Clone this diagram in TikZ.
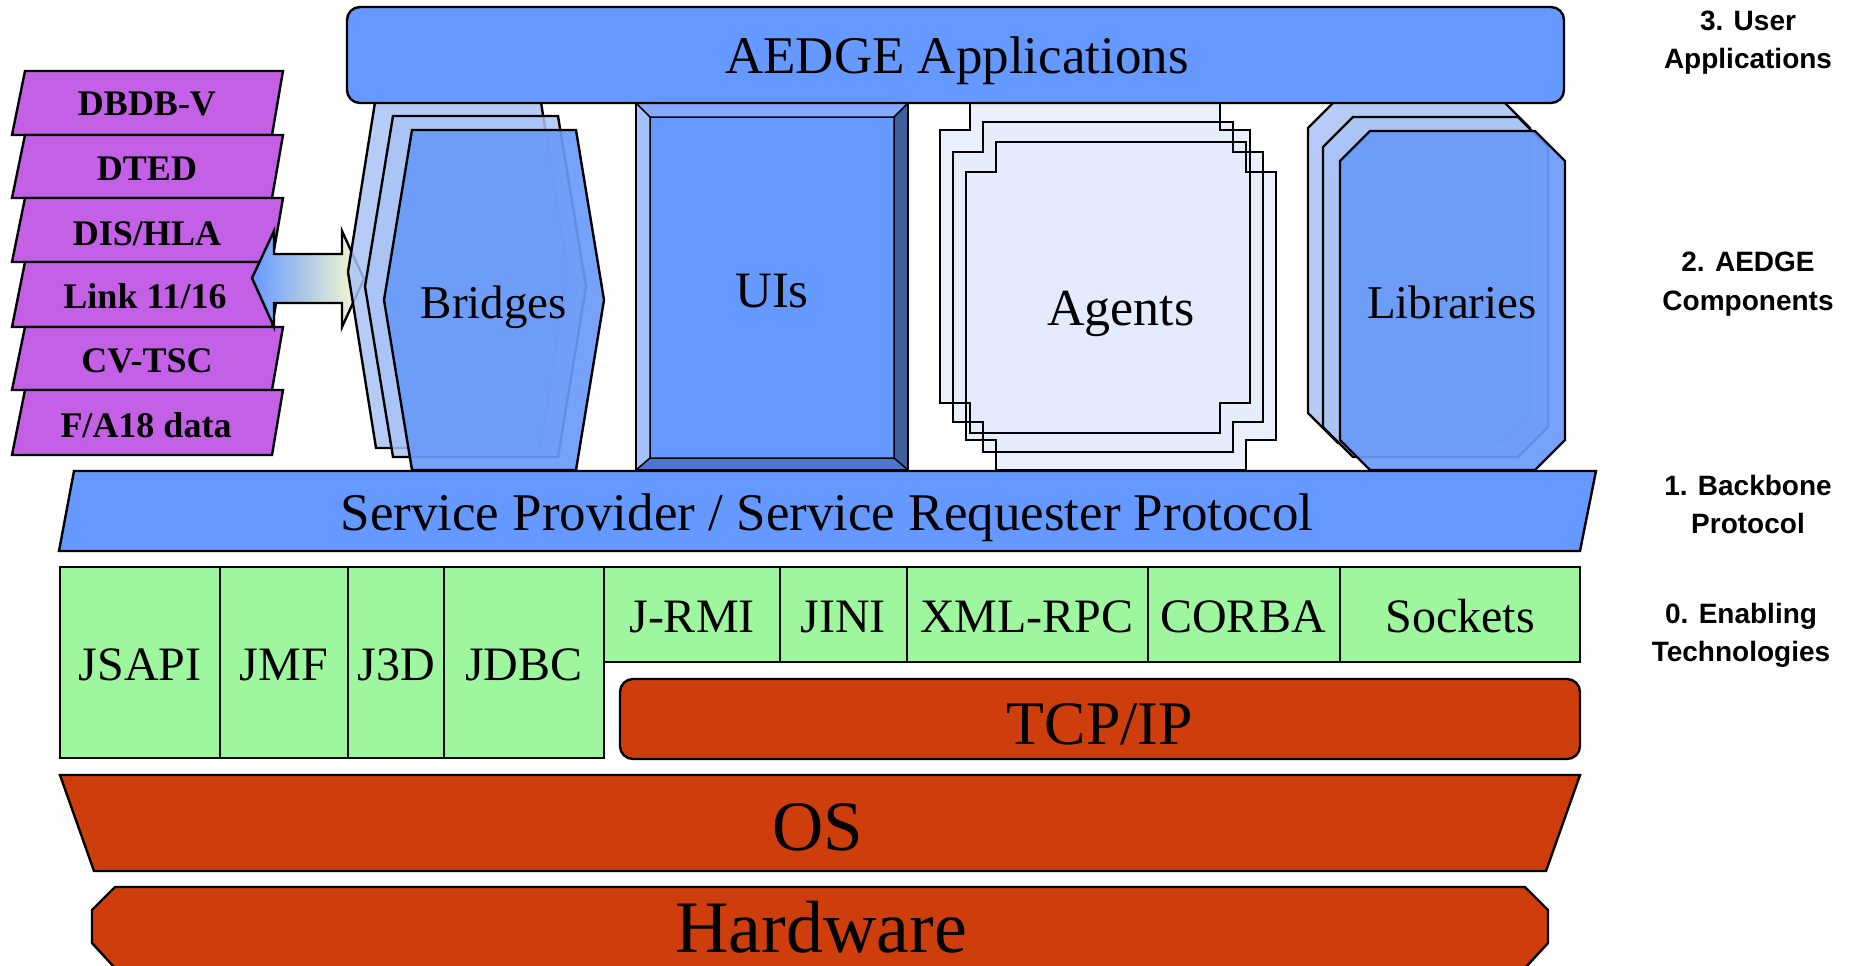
\documentclass[tikz,border=0pt]{standalone}
\usepackage{fontspec}
\setmainfont{Liberation Serif}
\newfontfamily\labfont{Liberation Sans}
\definecolor{barblue}{HTML}{6699FF}
\definecolor{lightblue}{HTML}{A9C3F6}
\definecolor{frontblue}{HTML}{6A9AF8}
\definecolor{agentfill}{HTML}{E3EBFC}
\definecolor{greenfill}{HTML}{9EF79E}
\definecolor{orangefill}{HTML}{CE3E0C}
\definecolor{purplefill}{HTML}{C460E6}
\definecolor{uileft}{HTML}{A3C2FF}
\definecolor{uitop}{HTML}{86AAFF}
\definecolor{uiright}{HTML}{3F5E9E}
\definecolor{uibottom}{HTML}{4E76CC}
\definecolor{arrowyellow}{HTML}{FFFFCC}
\newcommand\octo[4]{({#1+30},#2) -- ({#3-30},#2) -- (#3,{#2+30}) -- (#3,{#4-30}) -- ({#3-30},#4) -- ({#1+30},#4) -- (#1,{#4-30}) -- (#1,{#2+30}) -- cycle}
\newcommand\notchbox[4]{({#1+30},#2) -- ({#3-30},#2) -- ({#3-30},{#2+30}) -- (#3,{#2+30}) -- (#3,{#4-30}) -- ({#3-30},{#4-30}) -- ({#3-30},#4) -- ({#1+30},#4) -- ({#1+30},{#4-30}) -- (#1,{#4-30}) -- (#1,{#2+30}) -- ({#1+30},{#2+30}) -- cycle}
\newcommand\hexa[4]{(#1,#2) -- (#3,#2) -- ({#3+28},{(#2+#4)/2}) -- (#3,#4) -- (#1,#4) -- ({#1-28},{(#2+#4)/2}) -- cycle}
\tikzset{
  ol/.style={draw=black, line width=2.4pt, line join=miter},
  bluebar/.style={ol, fill=barblue},
  purplerow/.style={ol, fill=purplefill},
  greenbox/.style={ol, fill=greenfill},
  orangebox/.style={ol, fill=orangefill},
  backshape/.style={ol, fill=lightblue, fill opacity=0.85},
  frontshape/.style={ol, fill=frontblue, fill opacity=0.92},
  agentshape/.style={fill=agentfill, fill opacity=0.75},
  ptext/.style={anchor=base, font=\bfseries\fontsize{36}{40}\selectfont},
  gtext/.style={anchor=base, font=\fontsize{48}{52}\selectfont},
  ctext/.style={anchor=base, font=\fontsize{50}{55}\selectfont},
  btext/.style={anchor=base, font=\fontsize{53}{58}\selectfont},
  lab/.style={anchor=base, font=\labfont\bfseries\fontsize{28}{30}\selectfont}
}
\begin{document}
\begin{tikzpicture}[x=1pt,y=-1pt]
\useasboundingbox (0,0) rectangle (1852,966);

% ---- purple data rows ----
\filldraw[purplerow] (25,71) -- (283,71) -- (272,135) -- (12,135) -- cycle;
\filldraw[purplerow] (25,135) -- (283,135) -- (272,198) -- (12,198) -- cycle;
\filldraw[purplerow] (25,198) -- (283,198) -- (272,262) -- (12,262) -- cycle;
\filldraw[purplerow] (25,262) -- (283,262) -- (272,327) -- (12,327) -- cycle;
\filldraw[purplerow] (25,327) -- (283,327) -- (272,390) -- (12,390) -- cycle;
\filldraw[purplerow] (25,390) -- (283,390) -- (272,455) -- (12,455) -- cycle;
\node[ptext] (p1) at (147,115) {DBDB-V};
\node[ptext] (p2) at (147,180) {DTED};
\node[ptext] (p3) at (147,245) {DIS/HLA};
\node[ptext] (p4) at (145,308) {Link 11/16};
\node[ptext] (p5) at (147,372) {CV-TSC};
\node[ptext] (p6) at (146,437) {F/A18 data};

% ---- double arrow ----
\shade[left color=barblue, right color=arrowyellow]
  (252,278) -- (274,231) -- (274,254) -- (342,254) -- (342,231) -- (364,279)
  -- (342,327) -- (342,303) -- (274,303) -- (274,327) -- cycle;
\draw[ol]
  (252,278) -- (274,231) -- (274,254) -- (342,254) -- (342,231) -- (364,279)
  -- (342,327) -- (342,303) -- (274,303) -- (274,327) -- cycle;

% ---- Bridges ----
\filldraw[backshape] \hexa{376}{96}{540}{448};
\filldraw[backshape] \hexa{393}{116}{558}{457};
\filldraw[frontshape] \hexa{412}{130}{576}{470};
\node[ctext, font=\fontsize{47}{52}\selectfont] (bridges) at (494,318) {Bridges};

% ---- UIs ----
\fill[uileft] (636,103) -- (650,117) -- (650,458) -- (636,470) -- cycle;
\fill[uitop] (636,103) -- (908,103) -- (894,117) -- (650,117) -- cycle;
\fill[uiright] (908,103) -- (908,470) -- (894,458) -- (894,117) -- cycle;
\fill[uibottom] (636,470) -- (650,458) -- (894,458) -- (908,470) -- cycle;
\fill[barblue] (650,117) rectangle (894,458);
\draw[line width=1.5pt] (650,117) rectangle (894,458)
  (636,103) -- (650,117) (908,103) -- (894,117) (636,470) -- (650,458) (908,470) -- (894,458);
\draw[ol] (636,103) rectangle (908,470);
\node[ctext, font=\fontsize{51}{55}\selectfont] (uis) at (772,307) {UIs};

% ---- Agents ----
\fill[agentshape] \notchbox{940}{100}{1250}{433};
\fill[agentshape] \notchbox{953}{122}{1263}{452};
\fill[agentshape] \notchbox{966}{142}{1276}{470};
\draw[ol] \notchbox{940}{100}{1250}{433};
\draw[ol] \notchbox{953}{122}{1263}{452};
\draw[ol] \notchbox{966}{142}{1276}{470};
\node[ctext, font=\fontsize{52}{56}\selectfont] (agents) at (1121,325) {Agents};

% ---- Libraries ----
\filldraw[backshape] \octo{1308}{98}{1530}{443};
\filldraw[backshape] \octo{1323}{117}{1548}{457};
\filldraw[frontshape] \octo{1340}{131}{1565}{470};
\node[ctext, font=\fontsize{47}{52}\selectfont] (libraries) at (1452,318) {Libraries};

% ---- AEDGE Applications ----
\filldraw[bluebar, rounded corners=13pt] (347,7) rectangle (1564,103);
\node[btext] (apps) at (957,74) {AEDGE Applications};

% ---- Service bar ----
\filldraw[bluebar] (74,471) -- (1596,471) -- (1580,551) -- (59,551) -- cycle;
\node[btext] (spsr) at (827,530) {Service Provider / Service Requester Protocol};

% ---- Enabling technologies ----
\filldraw[greenbox] (60,567) rectangle (220,758);
\filldraw[greenbox] (220,567) rectangle (348,758);
\filldraw[greenbox] (348,567) rectangle (444,758);
\filldraw[greenbox] (444,567) rectangle (604,758);
\filldraw[greenbox] (604,567) rectangle (780,662);
\filldraw[greenbox] (780,567) rectangle (907,662);
\filldraw[greenbox] (907,567) rectangle (1148,662);
\filldraw[greenbox] (1148,567) rectangle (1340,662);
\filldraw[greenbox] (1340,567) rectangle (1580,662);
\node[gtext] (jsapi) at (140,680) {JSAPI};
\node[gtext] (jmf) at (284,680) {JMF};
\node[gtext] (j3d) at (396,680) {J3D};
\node[gtext] (jdbc) at (524,680) {JDBC};
\node[gtext] (jrmi) at (692,632) {J-RMI};
\node[gtext] (jini) at (843,632) {JINI};
\node[gtext] (xmlrpc) at (1027,632) {XML-RPC};
\node[gtext] (corba) at (1243,632) {CORBA};
\node[gtext] (sockets) at (1460,632) {Sockets};

% ---- TCP/IP ----
\filldraw[orangebox, rounded corners=13pt] (620,679) rectangle (1580,759);
\node[anchor=base, font=\fontsize{62}{66}\selectfont] (tcpip) at (1100,744) {TCP/IP};

% ---- OS ----
\filldraw[orangebox] (60,775) -- (1580,775) -- (1546,871) -- (94,871) -- cycle;
\node[anchor=base, font=\fontsize{71}{76}\selectfont] (os) at (818,850) {OS};

% ---- Hardware ----
\filldraw[orangebox] (115,887) -- (1525,887) -- (1548,910) -- (1548,943) -- (1525,968) -- (1525,972) -- (115,972) -- (115,968) -- (92,943) -- (92,910) -- cycle;
\node[anchor=base, inner sep=0pt, font=\fontsize{74}{78}\selectfont] (hw) at (821,952) {Hardware};

% ---- layer labels ----
\node[lab] (l3a) at (1748,31) {3. User};
\node[lab] (l3b) at (1748,69) {Applications};
\node[lab] (l2a) at (1748,271) {2. AEDGE};
\node[lab] (l2b) at (1748,310) {Components};
\node[lab] (l1a) at (1748,495) {1. Backbone};
\node[lab] (l1b) at (1748,533) {Protocol};
\node[lab] (l0a) at (1741,623) {0. Enabling};
\node[lab] (l0b) at (1741,661) {Technologies};
\end{tikzpicture}
\end{document}
